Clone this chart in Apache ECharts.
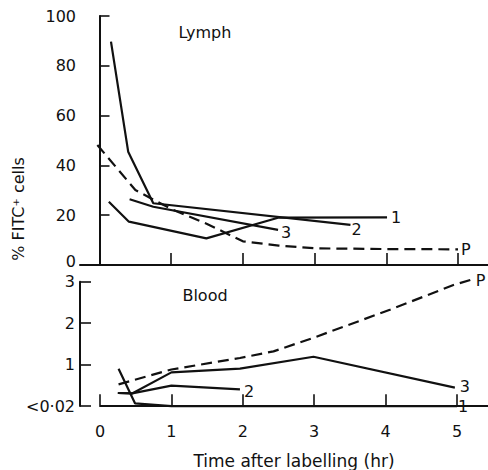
<!DOCTYPE html>
<html>
<head>
<meta charset="utf-8">
<script src="https://cdn.jsdelivr.net/npm/echarts@6/dist/echarts.min.js"></script>
<style>html,body{margin:0;padding:0;background:#fff}#c{width:488px;height:470px}</style>
</head>
<body>
<div id="c"></div>
<script>
// ---- data ----
const xTicks = [0, 1, 2, 3, 4, 5];
const lymphYTicks = [0, 20, 40, 60, 80, 100];
const bloodYTicks = [0, 1, 2, 3];
const bloodYLabels = ['<0·02', '1', '2', '3'];

const lymph1 = [[0.13, 25.4], [0.41, 17.4], [1.49, 10.7], [2.49, 19.0], [4.01, 19.1]];
const lymph2 = [[0.16, 89.7], [0.40, 45.5], [0.75, 24.8], [3.50, 16.1]];
const lymph3 = [[0.42, 26.4], [0.75, 23.4], [2.49, 14.1]];
const lymphP = [[-0.03, 48.2], [0.5, 30.1], [1.0, 22.5], [1.5, 16.5], [2.0, 9.5], [2.5, 7.8], [3.0, 6.7], [4.0, 6.4], [5.0, 6.3]];

const blood1 = [[0.26, 0.89], [0.49, 0.05], [1.0, -0.02], [5.0, -0.02]];
const blood2 = [[0.25, 0.30], [0.45, 0.29], [1.0, 0.48], [1.96, 0.39]];
const blood3 = [[0.25, 0.30], [0.45, 0.29], [1.0, 0.80], [1.96, 0.89], [2.99, 1.18], [4.97, 0.43]];
const bloodP = [[0.26, 0.51], [1.0, 0.87], [1.96, 1.15], [2.43, 1.31], [2.99, 1.64], [4.06, 2.32], [4.95, 2.92], [5.22, 3.06]];

const seriesNames = ['1', '2', '3', 'P'];

// ---- chart ----
const FONT = 'DejaVu Sans';
const INK = '#111';
const chart = echarts.init(document.getElementById('c'), null, {renderer: 'svg'});

function lineSeries(name, data, xi, yi, dashed, off) {
  return {
    type: 'line', name: name, data: data, xAxisIndex: xi, yAxisIndex: yi,
    symbol: 'none', clip: false, silent: true, animation: false,
    lineStyle: {color: INK, width: 2.2, type: dashed ? [11, 6] : 'solid'},
    endLabel: {show: true, formatter: name, color: INK, fontFamily: FONT, fontSize: 16, lineHeight: 14, offset: off, distance: 4}
  };
}

const axisText = {color: INK, fontFamily: FONT, fontSize: 16};

chart.setOption({
  backgroundColor: '#fff',
  animation: false,
  grid: [
    {left: 80, top: 16, width: 408, height: 249},          // lymph
    {left: 100, top: 281.7, width: 388, height: 135},      // blood data + x axis
    {left: 80, top: 281.7, width: 10, height: 124.3}       // blood y axis
  ],
  xAxis: [
    {gridIndex: 0, type: 'value', min: -0.272, max: 5.418,
     axisLine: {lineStyle: {color: INK, width: 2}},
     axisTick: {inside: true, length: 12, customValues: xTicks, lineStyle: {color: INK, width: 1.6}},
     axisLabel: {show: false}, splitLine: {show: false}},
    {gridIndex: 1, type: 'value', min: 0, max: 5.434,
     axisLine: {lineStyle: {color: INK, width: 2}},
     axisTick: {inside: true, length: 11, customValues: xTicks, lineStyle: {color: INK, width: 1.6}},
     axisLabel: Object.assign({customValues: xTicks, margin: 7}, axisText),
     splitLine: {show: false},
     name: 'Time after labelling (hr)', nameLocation: 'middle', nameGap: 36,
     nameTextStyle: {color: INK, fontFamily: FONT, fontSize: 17}},
    {gridIndex: 2, type: 'value', min: 0, max: 1, show: false}
  ],
  yAxis: [
    {gridIndex: 0, type: 'value', min: 0, max: 100, interval: 20,
     axisLine: {show: true, lineStyle: {color: INK, width: 2}},
     axisTick: {show: true, inside: true, length: 10, lineStyle: {color: INK, width: 1.6}},
     axisLabel: Object.assign({
       margin: 4, lineHeight: 14,
       formatter: function (v) { return v === lymphYTicks[0] ? '{z|' + v + '}' : String(v); },
       rich: {z: {color: INK, fontFamily: FONT, fontSize: 16, lineHeight: 14, padding: [0, 0, 8, 0]}}
     }, axisText),
     splitLine: {show: false}},
    {gridIndex: 1, type: 'value', min: -0.258, max: 3, show: false},
    {gridIndex: 2, type: 'value', min: 0, max: 3, interval: 1,
     axisLine: {show: true, lineStyle: {color: INK, width: 2}},
     axisTick: {show: true, inside: true, length: 11, lineStyle: {color: INK, width: 1.6}},
     axisLabel: Object.assign({margin: 5, lineHeight: 14, formatter: function (v) { return bloodYLabels[bloodYTicks.indexOf(v)]; }}, axisText),
     splitLine: {show: false}}
  ],
  graphic: [
    {type: 'text', x: 205, y: 32, silent: true,
     style: {text: 'Lymph', fill: INK, font: '16px "DejaVu Sans"', align: 'center', verticalAlign: 'middle'}},
    {type: 'text', x: 205, y: 295, silent: true,
     style: {text: 'Blood', fill: INK, font: '16px "DejaVu Sans"', align: 'center', verticalAlign: 'middle'}},
    {type: 'text', x: 18, y: 209, rotation: Math.PI / 2, silent: true,
     style: {text: '% FITC⁺ cells', fill: INK, font: '16px "DejaVu Sans"', align: 'center', verticalAlign: 'middle'}}
  ],
  series: [
    lineSeries(seriesNames[0], lymph1, 0, 0, false, [0, 0]),
    lineSeries(seriesNames[1], lymph2, 0, 0, false, [-3, 5]),
    lineSeries(seriesNames[2], lymph3, 0, 0, false, [-1, 3]),
    lineSeries(seriesNames[3], lymphP, 0, 0, true, [-1, 0]),
    lineSeries(seriesNames[0], blood1, 1, 1, false, [-3, 0]),
    lineSeries(seriesNames[1], blood2, 1, 1, false, [0, 2]),
    lineSeries(seriesNames[2], blood3, 1, 1, false, [1, -1]),
    lineSeries(seriesNames[3], bloodP, 1, 1, true, [-1, 1])
  ]
});
</script>
</body>
</html>
